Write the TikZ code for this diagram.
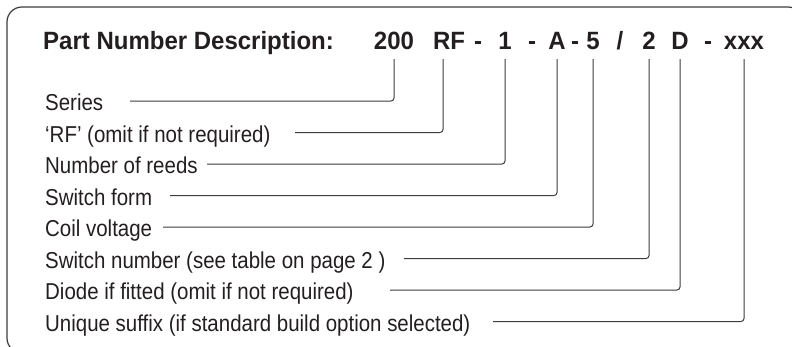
\documentclass[tikz,border=0pt]{standalone}
\usepackage{fontspec}
\setmainfont{Liberation Sans}
\newfontfamily\labelfont[FakeStretch=0.89]{Liberation Sans}
\newfontfamily\codefont[FakeStretch=0.96]{Liberation Sans}
\definecolor{ink}{HTML}{231F20}
\definecolor{wire}{HTML}{3C3C3C}
\tikzset{
    label/.style={anchor=base west, inner sep=0pt, text=ink,
        font=\labelfont\fontsize{23}{27}\selectfont},
    code/.style={anchor=base, inner sep=0pt, text depth=0pt, text=ink,
        font=\codefont\fontsize{25}{29}\selectfont\bfseries},
    lead/.style={draw=wire, line width=1pt, rounded corners=3pt},
}
\begin{document}
\begin{tikzpicture}[x=1pt,y=-1pt]
    \useasboundingbox (0,0) rectangle (792,346);
    \begin{scope}
        \clip (0,0) rectangle (792,346);
        \draw[wire, line width=1.2pt, rounded corners=15pt] (7,7) rectangle (803,353);
    \end{scope}

    % heading and code
    \node[code, anchor=base west] (title) at (43,49) {Part Number Description:};
    \node[code] (c200) at (394,49) {200};
    \node[code] (cRF)  at (449,49) {RF};
    \node[code] (d1)   at (478,49) {-};
    \node[code] (c1)   at (505,49) {1};
    \node[code] (d2)   at (532,49) {-};
    \node[code] (cA)   at (557,49) {A};
    \node[code] (d3)   at (575,49) {-};
    \node[code] (c5)   at (593,49) {5};
    \node[code] (sl)   at (620,49) {/};
    \node[code] (c2)   at (649,49) {2};
    \node[code] (cD)   at (680,49) {D};
    \node[code] (d4)   at (708,49) {-};
    \node[code] (cxxx) at (744,49) {xxx};

    % descriptions
    \node[label] (series) at (45,110.5) {Series};
    \node[label] (rf)     at (45,142)   {‘RF’ (omit if not required)};
    \node[label] (reeds)  at (45,173.5) {Number of reeds};
    \node[label] (form)   at (45,205)   {Switch form};
    \node[label] (coil)   at (45,236.5) {Coil voltage};
    \node[label] (swno)   at (45,268)   {Switch number (see table on page 2 )};
    \node[label] (diode)  at (45,299.5) {Diode if fitted (omit if not required)};
    \node[label] (suffix) at (45,331)   {Unique suffix (if standard build option selected)};

    % line starts
    \coordinate (s1) at (130,101);
    \coordinate (s2) at (295,132.5);
    \coordinate (s3) at (207,164);
    \coordinate (s4) at (170,195.5);
    \coordinate (s5) at (163,227);
    \coordinate (s6) at (404,258.5);
    \coordinate (s7) at (390,290);
    \coordinate (s8) at (493,321.5);

    % leaders
    \draw[lead] (s1) -| ([yshift=-10pt]c200.south);
    \draw[lead] (s2) -| ([xshift=-6pt,yshift=-10pt]cRF.south);
    \draw[lead] (s3) -| ([yshift=-10pt]c1.south);
    \draw[lead] (s4) -| ([yshift=-10pt]cA.south);
    \draw[lead] (s5) -| ([yshift=-10pt]c5.south);
    \draw[lead] (s6) -| ([yshift=-10pt]c2.south);
    \draw[lead] (s7) -| ([yshift=-10pt]cD.south);
    \draw[lead] (s8) -| ([yshift=-10pt]cxxx.south);
\end{tikzpicture}
\end{document}
